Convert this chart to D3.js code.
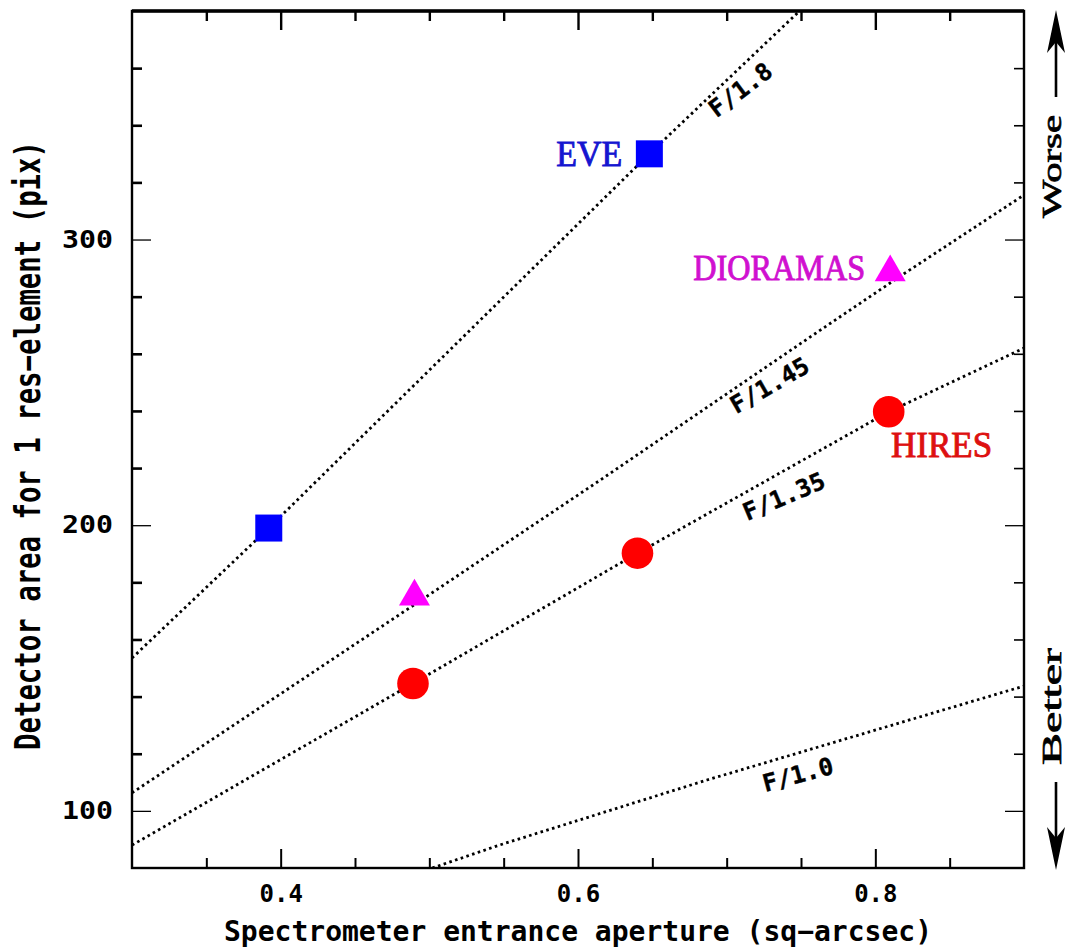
<!DOCTYPE html>
<html>
<head>
<meta charset="utf-8">
<script src="https://cdn.jsdelivr.net/npm/d3@7"></script>
<style>
  html, body { margin: 0; padding: 0; background: #fff; }
  svg { display: block; }
</style>
</head>
<body>
<div id="chart"></div>
<script>
// tick values
const xMajor = [0.4, 0.6, 0.8];
const xMinor = [0.35, 0.45, 0.5, 0.55, 0.65, 0.7, 0.75, 0.85];
const yMajor = [100, 200, 300];
const yMinor = [120, 140, 160, 180, 220, 240, 260, 280, 320, 340, 360];

// instruments: aperture (sq-arcsec) vs detector area (pix)
const eveX = [0.392, 0.648];
const eveY = [199, 330];
const diorX = [0.49, 0.81];
const diorY = [175, 288.5];
const hiresX = [0.489, 0.64, 0.809];
const hiresY = [144.6, 190.2, 239.7];

// F-ratio curves
const fNames = ["F/1.8", "F/1.45", "F/1.35", "F/1.0"];
const f18X = [0.3, 0.392, 0.648, 0.749];
const f18Y = [153.5, 199, 330, 380];
const f145X = [0.3, 0.49, 0.615, 0.763, 0.818, 0.9];
const f145Y = [106.3, 172.2, 215.8, 268.3, 287.6, 315.6];
const f135X = [0.3, 0.489, 0.64, 0.809, 0.9];
const f135Y = [88, 144.6, 190.2, 239.7, 262];
const f10X = [0.502, 0.5476, 0.6867, 0.9];
const f10Y = [80, 88.1, 110.8, 143.7];
// where along each curve its name sits
const fLabelX = [0.7094, 0.729, 0.7385, 0.748];

const W = 1068, H = 949;
const margin = {top: 11, right: 44, bottom: 81, left: 132};
const monoFont = "'DejaVu Sans Mono', monospace";
const serifFont = "'Liberation Serif', 'DejaVu Serif', serif";

const x = d3.scaleLinear().domain([0.3, 0.9]).range([margin.left, W - margin.right]);
const y = d3.scaleLinear().domain([80, 380]).range([H - margin.bottom, margin.top]);

const svg = d3.select("#chart").append("svg")
  .attr("width", W).attr("height", H);

svg.append("defs").append("clipPath").attr("id", "plotclip")
  .append("rect")
  .attr("x", x(0.3)).attr("y", y(380))
  .attr("width", x(0.9) - x(0.3)).attr("height", y(80) - y(380));

// ---- axes ----
function tidy(g, w) {
  g.select(".domain").remove();
  g.selectAll(".tick line").attr("stroke", "#000").attr("stroke-width", w);
  g.attr("font-family", monoFont).attr("font-weight", "bold").attr("font-size", 24);
  g.selectAll("text").attr("fill", "#000");
}

svg.append("g")
  .attr("transform", `translate(0,${y(80)})`)
  .call(d3.axisBottom(x).tickValues(xMajor).tickSizeInner(-19).tickSizeOuter(0)
    .tickPadding(17).tickFormat(d3.format(".1f")))
  .call(g => tidy(g, 2));
svg.append("g")
  .attr("transform", `translate(0,${y(80)})`)
  .call(d3.axisBottom(x).tickValues(xMinor).tickSizeInner(-10).tickSizeOuter(0).tickFormat(""))
  .call(g => tidy(g, 2));
svg.append("g")
  .attr("transform", `translate(0,${y(380)})`)
  .call(d3.axisTop(x).tickValues(xMajor).tickSizeInner(-19).tickSizeOuter(0).tickFormat(""))
  .call(g => tidy(g, 2.4));
svg.append("g")
  .attr("transform", `translate(0,${y(380)})`)
  .call(d3.axisTop(x).tickValues(xMinor).tickSizeInner(-10).tickSizeOuter(0).tickFormat(""))
  .call(g => tidy(g, 2.4));

const yl = svg.append("g")
  .attr("transform", `translate(${x(0.3)},0)`)
  .call(d3.axisLeft(y).tickValues(yMajor).tickSizeInner(-19).tickSizeOuter(0)
    .tickPadding(19).tickFormat(d3.format("d")))
  .call(g => tidy(g, 1.3));
yl.selectAll("text").attr("textLength", 51).attr("lengthAdjust", "spacingAndGlyphs");
svg.append("g")
  .attr("transform", `translate(${x(0.3)},0)`)
  .call(d3.axisLeft(y).tickValues(yMinor).tickSizeInner(-10).tickSizeOuter(0).tickFormat(""))
  .call(g => tidy(g, 2.6));
svg.append("g")
  .attr("transform", `translate(${x(0.9)},0)`)
  .call(d3.axisRight(y).tickValues(yMajor).tickSizeInner(-19).tickSizeOuter(0).tickFormat(""))
  .call(g => tidy(g, 1.3));
svg.append("g")
  .attr("transform", `translate(${x(0.9)},0)`)
  .call(d3.axisRight(y).tickValues(yMinor).tickSizeInner(-10).tickSizeOuter(0).tickFormat(""))
  .call(g => tidy(g, 1.6));

// frame
svg.append("rect")
  .attr("x", x(0.3)).attr("y", y(380))
  .attr("width", x(0.9) - x(0.3)).attr("height", y(80) - y(380))
  .attr("fill", "none").attr("stroke", "#000").attr("stroke-width", 2.4);
svg.append("line")
  .attr("x1", x(0.3)).attr("x2", x(0.9)).attr("y1", y(380)).attr("y2", y(380))
  .attr("stroke", "#000").attr("stroke-width", 3.4);

// ---- F-ratio curves ----
const curves = [
  {name: fNames[0], xs: f18X, ys: f18Y, lx: fLabelX[0], dy: 23, rot: -37},
  {name: fNames[1], xs: f145X, ys: f145Y, lx: fLabelX[1], dy: 21, rot: -30},
  {name: fNames[2], xs: f135X, ys: f135Y, lx: fLabelX[2], dy: 26, rot: -23},
  {name: fNames[3], xs: f10X, ys: f10Y, lx: fLabelX[3], dy: 22, rot: -15}
];

const line = d3.line().x(d => x(d[0])).y(d => y(d[1]));
const curveG = svg.append("g").attr("clip-path", "url(#plotclip)");
curveG.selectAll("path")
  .data(curves)
  .join("path")
  .attr("d", c => line(d3.zip(c.xs, c.ys)))
  .attr("fill", "none")
  .attr("stroke", "#000")
  .attr("stroke-width", 2.8)
  .attr("stroke-dasharray", "2.6 3.4");

svg.append("g").selectAll("text")
  .data(curves)
  .join("text")
  .attr("transform", c => {
    const yAt = d3.scaleLinear().domain(c.xs).range(c.ys);
    return `translate(${x(c.lx)},${y(yAt(c.lx)) + c.dy}) rotate(${c.rot})`;
  })
  .attr("text-anchor", "middle")
  .attr("dominant-baseline", "central")
  .attr("font-family", monoFont)
  .attr("font-weight", "bold")
  .attr("font-size", 24)
  .attr("stroke", "#000").attr("stroke-width", 0.4)
  .text(c => c.name);

// ---- instruments ----
const marks = svg.append("g");
marks.selectAll("path.eve")
  .data(d3.zip(eveX, eveY))
  .join("path").attr("class", "eve")
  .attr("transform", d => `translate(${x(d[0])},${y(d[1])})`)
  .attr("d", d3.symbol(d3.symbolSquare, 27 * 27))
  .attr("fill", "#0000ff");
marks.selectAll("path.dior")
  .data(d3.zip(diorX, diorY))
  .join("path").attr("class", "dior")
  .attr("transform", d => `translate(${x(d[0])},${y(d[1])})`)
  .attr("d", d3.symbol(d3.symbolTriangle, 416))
  .attr("fill", "#ff00ff");
marks.selectAll("circle.hires")
  .data(d3.zip(hiresX, hiresY))
  .join("circle").attr("class", "hires")
  .attr("cx", d => x(d[0])).attr("cy", d => y(d[1]))
  .attr("r", 15.8)
  .attr("fill", "#ff0000");

function instLabel(txt, px, py, anchor, len, color) {
  svg.append("text")
    .attr("x", px).attr("y", py)
    .attr("text-anchor", anchor)
    .attr("font-family", serifFont)
    .attr("font-size", 35)
    .attr("fill", color)
    .attr("stroke", color).attr("stroke-width", 0.9)
    .attr("textLength", len).attr("lengthAdjust", "spacingAndGlyphs")
    .text(txt);
}
instLabel("EVE", x(eveX[1]) - 27, y(eveY[1]) + 12, "end", 66, "#1515d0");
instLabel("DIORAMAS", x(diorX[1]) - 25, y(diorY[1]) + 8, "end", 172, "#d010d0");
instLabel("HIRES", x(hiresX[2]) + 2.4, y(hiresY[2]) + 45, "start", 101, "#dd1010");

// ---- axis titles ----
svg.append("text")
  .attr("x", (x(0.3) + x(0.9)) / 2).attr("y", 941)
  .attr("text-anchor", "middle")
  .attr("font-family", monoFont).attr("font-weight", "bold").attr("font-size", 27.5)
  .attr("textLength", 708).attr("lengthAdjust", "spacingAndGlyphs")
  .text("Spectrometer entrance aperture (sq\u2212arcsec)");

svg.append("text")
  .attr("transform", `translate(40,445.5) rotate(-90) scale(1,1.3)`)
  .attr("text-anchor", "middle")
  .attr("font-family", monoFont).attr("font-weight", "bold").attr("font-size", 27)
  .attr("textLength", 609).attr("lengthAdjust", "spacingAndGlyphs")
  .text("Detector area for 1 res\u2212element (pix)");

// ---- Worse / Better with arrows ----
function sideWord(txt, py, len) {
  svg.append("text")
    .attr("transform", `translate(1061,${py}) rotate(-90)`)
    .attr("text-anchor", "start")
    .attr("font-family", serifFont).attr("font-size", 28)
    .attr("stroke", "#000").attr("stroke-width", 0.7)
    .attr("textLength", len).attr("lengthAdjust", "spacingAndGlyphs")
    .text(txt);
}
sideWord("Worse", 218, 103);
sideWord("Better", 765, 117);

function arrow(ax, tail, tip) {
  const s = Math.sign(tip - tail);
  svg.append("line")
    .attr("x1", ax).attr("x2", ax).attr("y1", tail).attr("y2", tip - s * 20)
    .attr("stroke", "#000").attr("stroke-width", 2.6);
  svg.append("path")
    .attr("d", `M${ax},${tip} L${ax - 9},${tip - s * 43} L${ax},${tip - s * 32} L${ax + 9},${tip - s * 43} Z`)
    .attr("fill", "#000");
}
arrow(1056, 97, 10);
arrow(1056, 782, 870);
</script>
</body>
</html>
